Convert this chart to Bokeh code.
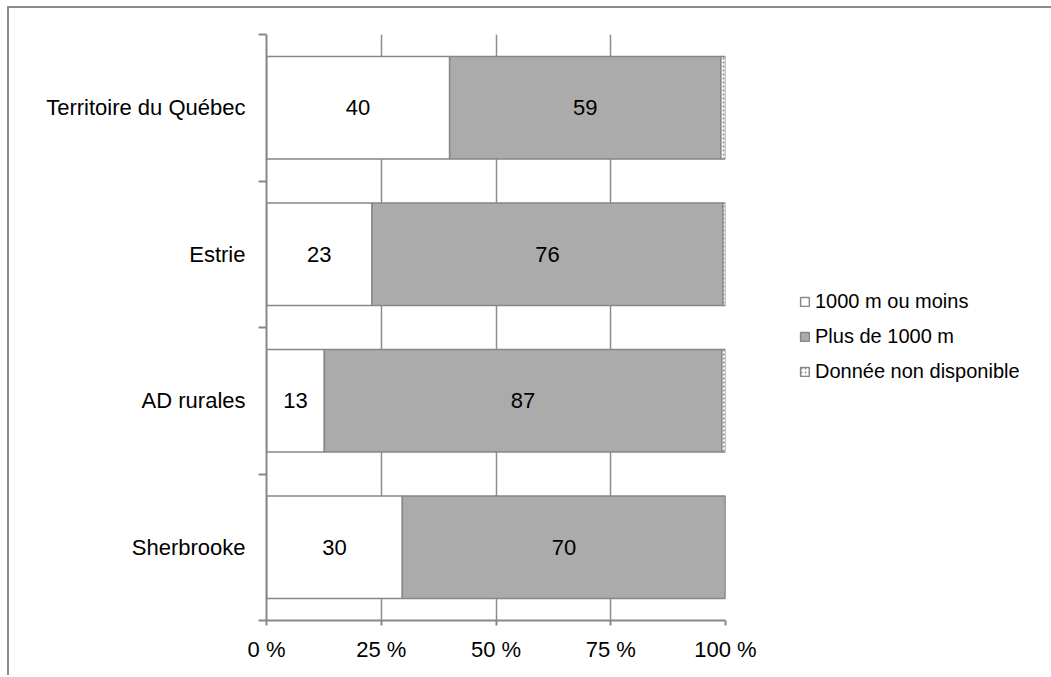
from bokeh.plotting import figure
from bokeh.models import ColumnDataSource, FixedTicker, Legend, LegendItem, Range1d
from bokeh.embed import file_html
from bokeh.resources import INLINE
from bokeh.core.properties import value

categories = ["Sherbrooke", "AD rurales", "Estrie", "Territoire du Québec"]
series_names = ["1000 m ou moins", "Plus de 1000 m", "Donnée non disponible"]
moins_1000 = [29.6, 12.6, 23.0, 39.9]
plus_1000 = [70.4, 86.6, 76.4, 59.1]
non_dispo = [0.0, 0.8, 0.6, 1.0]
x_ticks = [0, 25, 50, 75, 100]
x_tick_labels = ["0 %", "25 %", "50 %", "75 %", "100 %"]

FONT = "Liberation Sans"
GRAY_LINE = "#878787"

ypos = [i + 0.5 for i in range(len(categories))]
l1 = [0.0] * len(categories)
r1 = [a for a in moins_1000]
l2 = r1
r2 = [a + b for a, b in zip(moins_1000, plus_1000)]
l3 = r2
r3 = [a + b + c for a, b, c in zip(moins_1000, plus_1000, non_dispo)]

src = ColumnDataSource(dict(y=ypos, l1=l1, r1=r1, l2=l2, r2=r2, l3=l3, r3=r3))

p = figure(
    width=1035, height=667,
    frame_width=459, frame_height=586,
    min_border_left=257, min_border_right=319, min_border_top=26, min_border_bottom=55,
    x_range=Range1d(0, 100), y_range=Range1d(0, 4),
    output_backend="svg", toolbar_location=None,
)
p.styles = {"margin-left": "7px", "margin-top": "6px",
            "border-top": "2px solid #8c8c8c", "border-left": "2px solid #8c8c8c"}
p.outline_line_color = None
p.background_fill_color = "white"
p.border_fill_color = "white"

BAR_H = 0.70
r_a = p.hbar(y="y", left="l1", right="r1", height=BAR_H, source=src,
             fill_color="white", line_color=GRAY_LINE, line_width=1.5)
r_b = p.hbar(y="y", left="l2", right="r2", height=BAR_H, source=src,
             fill_color="#ababab", line_color=GRAY_LINE, line_width=1.5)
r_c = p.hbar(y="y", left="l3", right="r3", height=BAR_H, source=src,
             fill_color="white", line_color=GRAY_LINE, line_width=1.5,
             hatch_pattern="dot", hatch_color="#8c8c8c", hatch_scale=4, hatch_weight=1)

# value labels
lab_x, lab_y, lab_t = [], [], []
for i in range(len(categories)):
    lab_x.append(moins_1000[i] / 2)
    lab_y.append(ypos[i])
    lab_t.append(str(round(moins_1000[i])))
    lab_x.append(moins_1000[i] + plus_1000[i] / 2)
    lab_y.append(ypos[i])
    lab_t.append(str(round(plus_1000[i])))
p.text(x=lab_x, y=lab_y, text=lab_t, text_align="center", text_baseline="middle",
       text_font=value(FONT), text_font_size="22px", text_color="black")

# grid
p.xgrid.ticker = FixedTicker(ticks=x_ticks)
p.xgrid.grid_line_color = "#8c8c8c"
p.xgrid.grid_line_width = 1.5
p.xgrid.level = "underlay"
p.ygrid.grid_line_color = None

# x axis
p.xaxis.ticker = FixedTicker(ticks=x_ticks, minor_ticks=[])
p.xaxis.major_label_overrides = {t: s for t, s in zip(x_ticks, x_tick_labels)}
p.xaxis.axis_line_color = GRAY_LINE
p.xaxis.axis_line_width = 2
p.xaxis.major_tick_line_color = GRAY_LINE
p.xaxis.major_tick_line_width = 2
p.xaxis.major_tick_out = 5
p.xaxis.major_tick_in = 0
p.xaxis.minor_tick_line_color = None
p.xaxis.major_label_standoff = 11
p.xaxis.major_label_text_font = FONT
p.xaxis.major_label_text_font_size = "22px"
p.xaxis.major_label_text_color = "black"

# y axis
p.yaxis.ticker = FixedTicker(ticks=ypos, minor_ticks=list(range(len(categories) + 1)))
p.yaxis.major_label_overrides = {y: c for y, c in zip(ypos, categories)}
p.yaxis.axis_line_color = GRAY_LINE
p.yaxis.axis_line_width = 2
p.yaxis.major_tick_line_color = None
p.yaxis.major_tick_out = 0
p.yaxis.major_tick_in = 0
p.yaxis.minor_tick_line_color = GRAY_LINE
p.yaxis.minor_tick_line_width = 2
p.yaxis.minor_tick_out = 8
p.yaxis.minor_tick_in = 0
p.yaxis.major_label_standoff = 13
p.yaxis.major_label_text_font = FONT
p.yaxis.major_label_text_font_size = "22px"
p.yaxis.major_label_text_color = "black"

legend = Legend(
    items=[LegendItem(label=series_names[0], renderers=[r_a]),
           LegendItem(label=series_names[1], renderers=[r_b]),
           LegendItem(label=series_names[2], renderers=[r_c])],
    location=(74, 237), orientation="vertical",
    glyph_width=11, glyph_height=11, label_standoff=5, spacing=12,
    label_text_font=FONT, label_text_font_size="20px", label_text_color="black",
    border_line_color=None, background_fill_alpha=0, margin=0, padding=0,
)
p.add_layout(legend, "right")

open("out.html", "w").write(file_html(p, INLINE))
